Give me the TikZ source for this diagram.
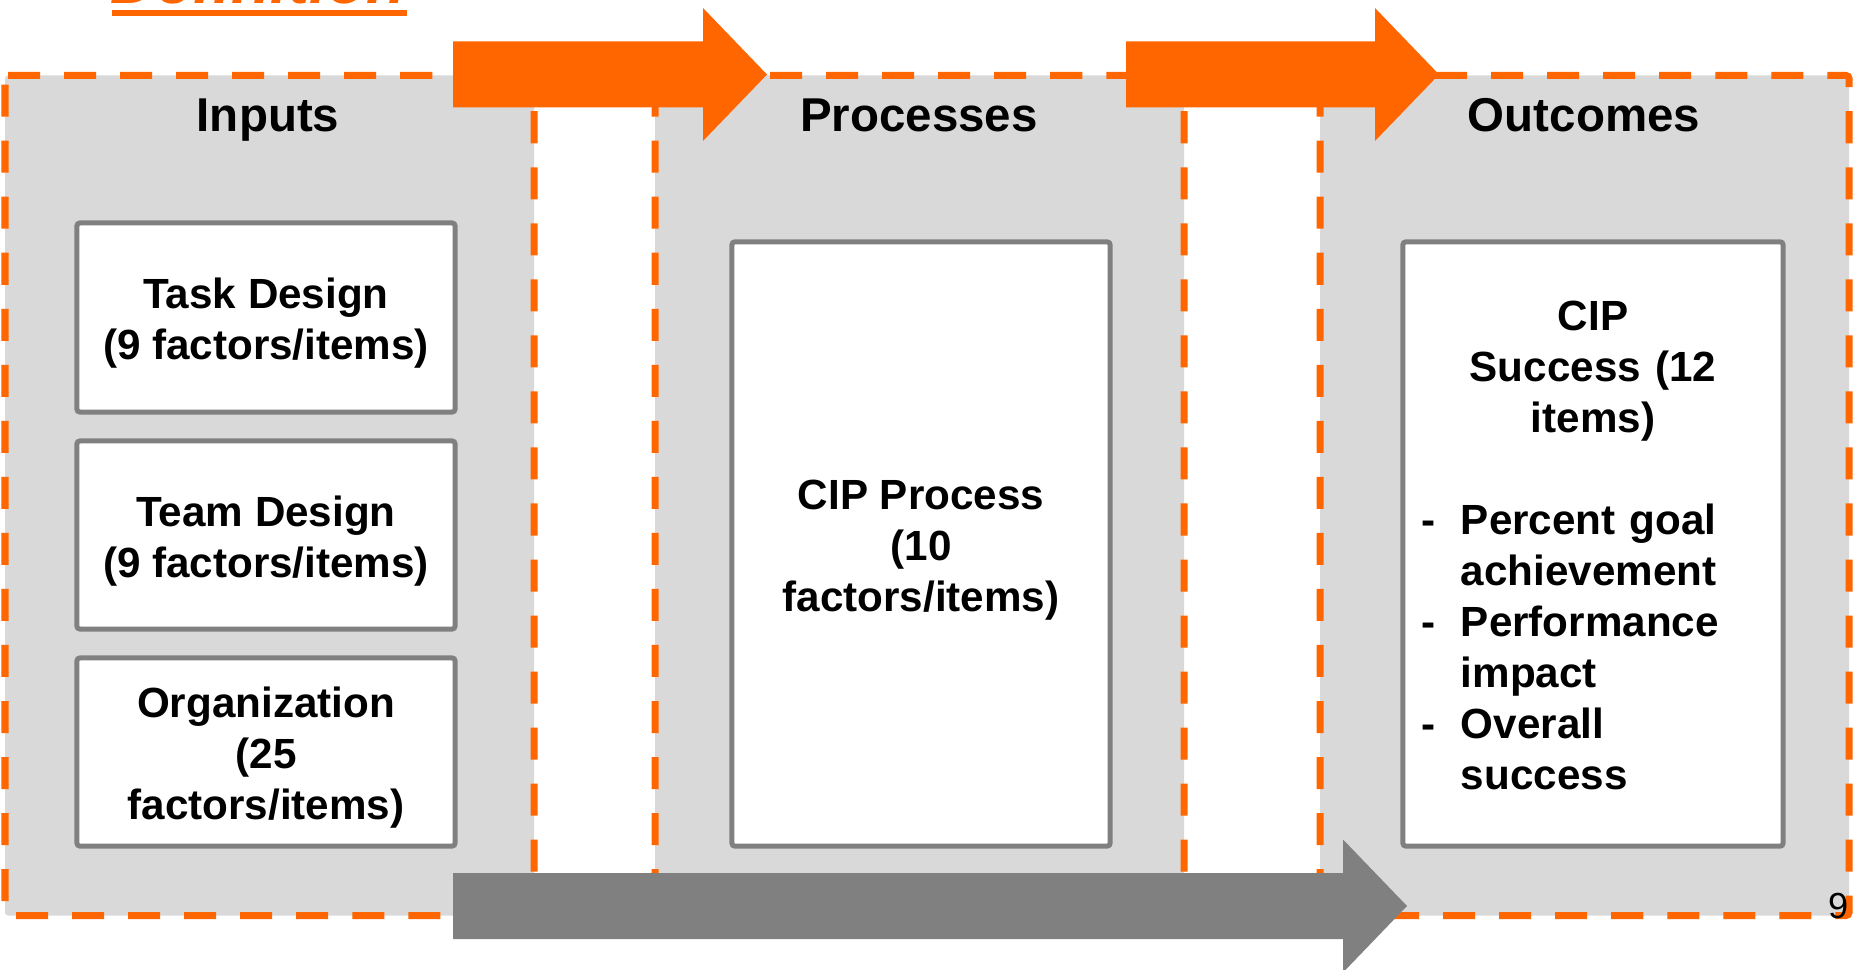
\documentclass[tikz,border=0pt]{standalone}
\usepackage{fontspec}
\setmainfont{Liberation Sans}
\usetikzlibrary{calc}
\definecolor{cipor}{HTML}{FF6600}
\definecolor{panelgray}{HTML}{D9D9D9}
\definecolor{edgegray}{HTML}{808080}
\def\blockarrow[#1](#2,#3)(#4){\fill[#1] ({#2},{#3-33}) -- ({#4-64},{#3-33}) -- ({#4-64},{#3-66.5}) -- ({#4},{#3}) -- ({#4-64},{#3+66.5}) -- ({#4-64},{#3+33}) -- ({#2},{#3+33}) -- cycle;}
\def\boxstrut#1{\rule{0pt}{#1em}}
\tikzset{
  panel/.style={fill=panelgray, draw=cipor, line width=0.07cm, dash pattern=on 0.32cm off 0.24cm, rounded corners=0.03cm},
  paneltitle/.style={anchor=base, inner sep=0pt, font=\bfseries\fontsize{13.5}{16}\selectfont},
  factorbox/.style={draw=edgegray, fill=white, line width=0.05cm, rounded corners=0.03cm, minimum width=3.78cm, inner sep=0pt, align=center, font=\bfseries\fontsize{12}{14.5}\selectfont},
}

\begin{document}
\begin{tikzpicture}[x=0.01cm, y=-0.01cm]
			%%%%% START %%%%%
			\useasboundingbox (0,0) rectangle (1854,970);
			\clip (0,0) rectangle (1854,970);
			
			\node[anchor=base west, inner sep=0pt, text=cipor, font=\bfseries\itshape\fontsize{18.2}{22}\selectfont] (deftitle) at (110,4) {Definition};
			\fill[cipor] (112,10) rectangle (407,16);
			
			% three stages
			\foreach \px in {5,655,1320}
				\draw[panel] (\px,75.5) -- ++(529,0) -- ++(0,840) -- ++(-529,0) -- cycle;
			
			\node[paneltitle] (inputs) at (268,132) {Inputs};
			\node[paneltitle] (processes) at (919,132) {Processes};
			\node[paneltitle] (outcomes) at (1584,132) {Outcomes};
			
			\node[factorbox, minimum height=1.89cm] (task) at (266,317.5) {\boxstrut{1}Task Design\\(9 factors/items)};
			\node[factorbox, minimum height=1.88cm] (team) at (266,535) {\boxstrut{1}Team Design\\(9 factors/items)};
			\node[factorbox, minimum height=1.88cm] (org) at (266,752) {\boxstrut{1}Organization\\(25\\factors/items)};
			
			\node[factorbox, minimum height=6.04cm] (cipproc) at (921,544) {\boxstrut{1}CIP Process\\(10\\factors/items)};
			
			\node[factorbox, minimum width=3.80cm, minimum height=6.04cm, text width=3.42cm] (cipsucc) at (1593,544) {\boxstrut{1.1}CIP\\Success (12\\items)\\[\baselineskip]
				\begin{tabular}[t]{@{}p{0.39cm}@{}p{3.03cm}@{}}
					-&Percent goal\\ &achievement\\
					-&Performance\\ &impact\\
					-&Overall\\ &success
				\end{tabular}};
			
			% block arrows on top
			\blockarrow[cipor](453,74.5)(767)
			\blockarrow[cipor](1126,74.5)(1439)
			\blockarrow[edgegray](453,906)(1407)
			
			\node[anchor=base east, inner sep=0pt, font=\fontsize{10.3}{12}\selectfont] (pagenum) at (1849,918) {9};
			%%%%% END %%%%%
\end{tikzpicture}
\end{document}
